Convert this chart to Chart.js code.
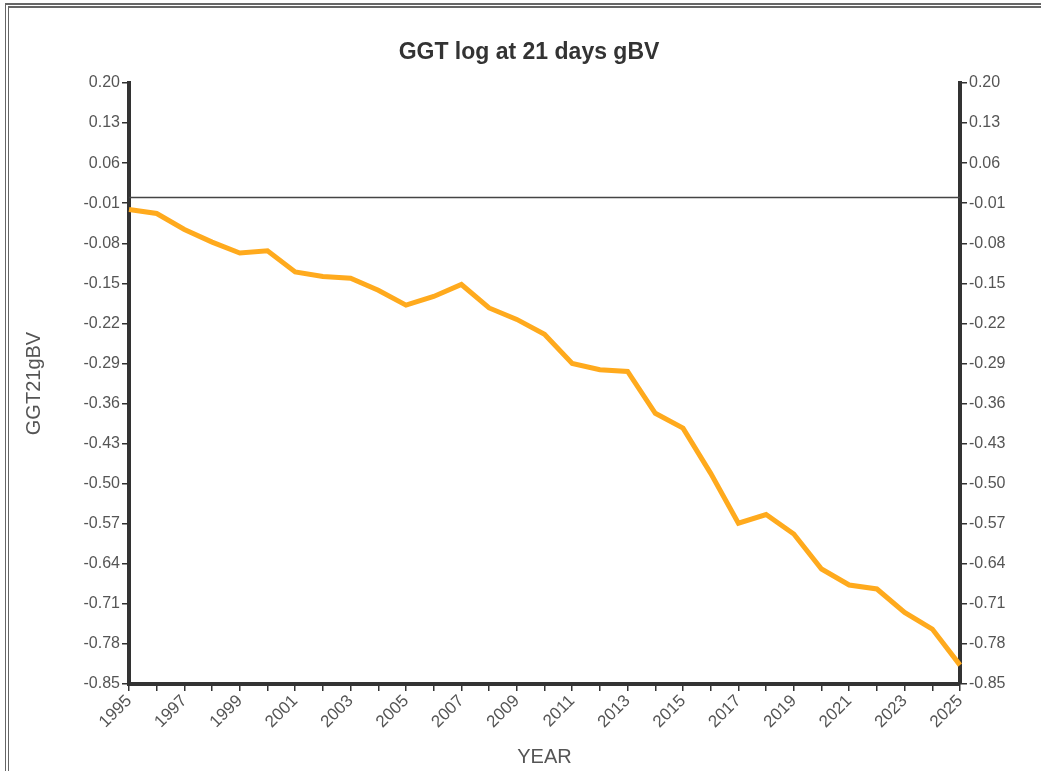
<!DOCTYPE html>
<html>
<head>
<meta charset="utf-8">
<title>GGT log at 21 days gBV</title>
<script src="https://cdn.jsdelivr.net/npm/chart.js@4"></script>
<style>
  body { margin: 0; background: #fff; }
  #frame {
    position: absolute; left: 5px; top: 3px; width: 1036px; height: 768px;
    border-top: 5px double #666; border-left: 4px double #666;
  }
  #wrap { position: absolute; left: 0; top: 0; width: 1041px; height: 771px; }
</style>
</head>
<body>
<div id="frame"></div>
<div id="wrap"><canvas id="ggtChart" width="1041" height="771"></canvas></div>
<script>
// values
const years = ['1995','1996','1997','1998','1999','2000','2001','2002','2003','2004',
               '2005','2006','2007','2008','2009','2010','2011','2012','2013','2014',
               '2015','2016','2017','2018','2019','2020','2021','2022','2023','2024','2025'];
const ggt21gbv = [-0.021, -0.028, -0.056, -0.078, -0.097, -0.093, -0.130, -0.138, -0.141, -0.162,
                  -0.188, -0.173, -0.152, -0.193, -0.213, -0.239, -0.290, -0.301, -0.304, -0.377,
                  -0.403, -0.482, -0.569, -0.554, -0.588, -0.649, -0.677, -0.684, -0.725, -0.754,
                  -0.817];
const yTicks = [0.20, 0.13, 0.06, -0.01, -0.08, -0.15, -0.22, -0.29, -0.36, -0.43,
                -0.50, -0.57, -0.64, -0.71, -0.78, -0.85];
const baseline = 0;

const tickFont = { family: 'Liberation Sans, Arial, sans-serif', size: 16 };
const tickColor = '#555';
const axisColor = '#333';

function setTicks(scale) {
  scale.ticks = yTicks.map(v => ({ value: v }));
}

document.addEventListener('DOMContentLoaded', function () {
  const ctx = document.getElementById('ggtChart').getContext('2d');
  new Chart(ctx, {
    type: 'line',
    data: {
      labels: years,
      datasets: [{
        label: 'GGT21gBV',
        data: ggt21gbv,
        borderColor: '#FFAA1D',
        borderWidth: 5,
        pointRadius: 0,
        tension: 0,
        order: 1
      }, {
        label: 'zero',
        data: years.map(() => baseline),
        borderColor: '#444',
        borderWidth: 1.5,
        pointRadius: 0,
        order: 2
      }]
    },
    options: {
      responsive: false,
      animation: false,
      layout: { padding: { left: 18, right: 0, top: 83, bottom: 0 } },
      plugins: {
        legend: { display: false },
        tooltip: { enabled: false }
      },
      scales: {
        x: {
          type: 'category',
          offset: false,
          grid: { drawOnChartArea: false, drawTicks: true, tickLength: 7, color: axisColor, lineWidth: 1.5 },
          border: { display: true, color: axisColor, width: 4 },
          ticks: {
            autoSkip: false, maxRotation: 45, minRotation: 45, padding: 0,
            font: { family: tickFont.family, size: 17 }, color: tickColor,
            callback: function (v, i) { return i % 2 === 0 ? years[i] : ''; }
          },
          title: { display: true, text: 'YEAR', color: tickColor, font: { family: tickFont.family, size: 20 }, padding: { top: 4, bottom: 2 } },
          afterFit: function (s) { s.height = 87; }
        },
        y: {
          position: 'left',
          min: -0.85, max: 0.20,
          grid: { drawOnChartArea: false, drawTicks: true, tickLength: 7, color: axisColor, lineWidth: 1.5 },
          border: { display: true, color: axisColor, width: 4 },
          ticks: { font: tickFont, color: tickColor, padding: 2, callback: v => v.toFixed(2) },
          afterBuildTicks: setTicks,
          title: { display: true, text: 'GGT21gBV', color: tickColor, font: { family: tickFont.family, size: 20 } },
          afterFit: function (s) { s.width = 111; }
        },
        y2: {
          position: 'right',
          min: -0.85, max: 0.20,
          grid: { drawOnChartArea: false, drawTicks: true, tickLength: 7, color: axisColor, lineWidth: 1.5 },
          border: { display: true, color: axisColor, width: 4 },
          ticks: { font: tickFont, color: tickColor, padding: 2, callback: v => v.toFixed(2) },
          afterBuildTicks: setTicks,
          afterFit: function (s) { s.width = 81; }
        }
      }
    },
    plugins: [{
      id: 'topTitle',
      afterDraw: function (chart) {
        const c = chart.ctx;
        c.save();
        c.font = 'bold 23px Liberation Sans, Arial, sans-serif';
        c.fillStyle = '#333';
        c.textAlign = 'center';
        c.textBaseline = 'middle';
        c.fillText('GGT log at 21 days gBV', 529, 53);
        c.restore();
      }
    }]
  });
});
</script>
</body>
</html>
